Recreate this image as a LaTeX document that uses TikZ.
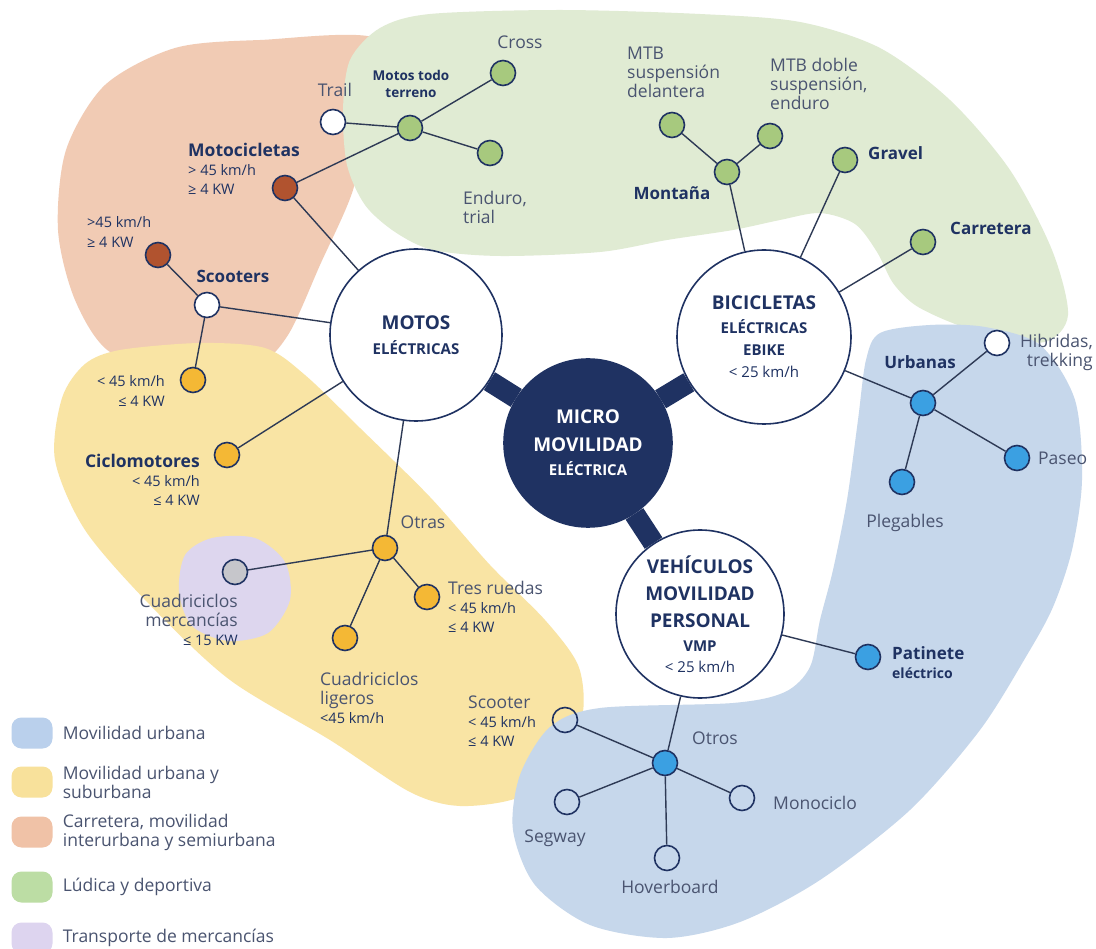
\documentclass[tikz,border=0pt]{standalone}
\usepackage{fontspec}
\setmainfont{Open Sans}
\usetikzlibrary{positioning}

\definecolor{navy}{HTML}{1F3262}
\definecolor{edge}{HTML}{2E3A55}
\definecolor{txt}{HTML}{4A5470}
\definecolor{zblue}{HTML}{C6D7EB}
\definecolor{zyellow}{HTML}{F9E4A4}
\definecolor{zpeach}{HTML}{F1CBB4}
\definecolor{zgreen}{HTML}{E0EBD3}
\definecolor{zpurple}{HTML}{DDD6EE}
\definecolor{dblue}{HTML}{3BA0E2}
\definecolor{dyellow}{HTML}{F4B835}
\definecolor{dbrown}{HTML}{B1532F}
\definecolor{dgreen}{HTML}{A7C97E}
\definecolor{dgray}{HTML}{C6C6CB}

\begin{document}
\begin{tikzpicture}[
    x=1pt, y=-1pt,
    big/.style={circle, draw=navy, line width=1.6pt, fill=white, inner sep=0pt, align=center, text=navy, minimum size=#1},
    dot/.style={circle, draw=navy, line width=1.6pt, inner sep=0pt, minimum size=25pt},
    link/.style={draw=edge, line width=1.4pt},
    bar/.style={draw=navy, line width=21pt},
    lbl/.style={text=txt, inner sep=0pt, font=\fontsize{17.5}{19}\selectfont},
    lblb/.style={text=navy, inner sep=0pt, font=\fontsize{17}{19}\selectfont\bfseries},
    sml/.style={text=navy, inner sep=0pt, font=\fontsize{14.5}{19.5}\selectfont},
    swatch/.style={rounded corners=10pt, minimum width=41pt, minimum height=31pt, inner sep=0pt},
    lgtxt/.style={lbl, anchor=west, align=left}
    ]
    \fill[white] (0,0) rectangle (1096,949);
    \useasboundingbox (0,0) rectangle (1096,949);

    \fill[zpeach] plot[smooth cycle] coordinates {(380,40) (365,120) (353,190) (320,265) (288,335) (255,365) (180,368) (110,352) (75,300) (58,230) (66,150) (105,85) (175,48) (260,40)};
    \fill[zgreen] plot[smooth cycle] coordinates {(430,14) (560,10) (700,14) (800,22) (880,48) (950,100) (1010,170) (1052,250) (1068,315) (1045,342) (990,335) (950,322) (915,305) (893,283) (877,252) (855,224) (820,213) (780,220) (733,230) (667,240) (600,252) (500,256) (433,250) (395,232) (365,205) (347,165) (343,110) (350,60) (380,28)};
    \fill[zyellow] plot[smooth cycle] coordinates {(120,350) (200,343) (265,348) (305,375) (360,428) (430,497) (490,565) (545,620) (578,665) (583,712) (565,762) (520,797) (460,806) (410,792) (330,740) (230,680) (150,605) (85,530) (55,460) (62,398) (85,364)};
    \fill[zpurple] plot[smooth cycle] coordinates {(185,555) (212,538) (255,538) (285,562) (290,600) (268,633) (228,641) (192,626) (179,592)};
    \fill[zblue] plot[smooth cycle] coordinates {(880,333) (930,325) (985,327) (1040,345) (1075,400) (1082,480) (1072,550) (1053,607) (1027,655) (980,730) (910,810) (820,880) (740,922) (667,938) (590,925) (535,885) (513,830) (520,775) (550,727) (600,708) (733,703) (785,692) (810,667) (820,620) (833,570) (847,500) (858,420) (866,360)};

    \node[big=172pt, font=\fontsize{19}{25}\selectfont\bfseries] (motos) at (416,335) {MOTOS\\{\fontsize{15}{25}\selectfont ELÉCTRICAS}};
    \node[big=174pt, font=\fontsize{19}{24}\selectfont\bfseries] (bici) at (764,337) {BICICLETAS\\{\fontsize{15}{24}\selectfont ELÉCTRICAS}\\[-2pt]{\fontsize{15}{24}\selectfont EBIKE}\\[-2pt]{\fontsize{15}{24}\selectfont\mdseries < 25 km/h}};
    \node[big=168pt, fill=navy, text=white, font=\fontsize{19}{28}\selectfont\bfseries] (micro) at (588,443) {MICRO\\MOVILIDAD\\[-4pt]{\fontsize{15}{28}\selectfont ELÉCTRICA}};
    \node[big=168pt, font=\fontsize{19}{27}\selectfont\bfseries] (vmp) at (700,614) {VEHÍCULOS\\MOVILIDAD\\PERSONAL\\[-3pt]{\fontsize{15}{27}\selectfont VMP}\\[-6pt]{\fontsize{15}{27}\selectfont\mdseries < 25 km/h}};

    \node[dot, fill=white] (trail) at (333,122) {};
    \node[dot, fill=dgreen] (mtt) at (410,128) {};
    \node[dot, fill=dgreen] (cross) at (503,73) {};
    \node[dot, fill=dgreen] (enduro) at (490,153) {};
    \node[dot, fill=dbrown] (motoc) at (285,188) {};
    \node[dot, fill=dbrown] (scmas) at (158,255) {};
    \node[dot, fill=white] (scooters) at (207,305) {};
    \node[dot, fill=dyellow] (scmenos) at (193,380) {};
    \node[dot, fill=dyellow] (ciclo) at (227,455) {};
    \node[dot, fill=dyellow] (otras) at (385,548) {};
    \node[dot, fill=dgray] (cmerc) at (235,572) {};
    \node[dot, fill=dyellow] (cligeros) at (345,638) {};
    \node[dot, fill=dyellow] (tres) at (427,597) {};
    \node[dot, fill=dgreen] (mtbdel) at (672,125) {};
    \node[dot, fill=dgreen] (montana) at (727,172) {};
    \node[dot, fill=dgreen] (mtbdob) at (770,136) {};
    \node[dot, fill=dgreen] (gravel) at (845,160) {};
    \node[dot, fill=dgreen] (carretera) at (923,242) {};
    \node[dot, fill=white] (hibridas) at (997,343) {};
    \node[dot, fill=dblue] (urbanas) at (923,403) {};
    \node[dot, fill=dblue] (paseo) at (1017,458) {};
    \node[dot, fill=dblue] (plegables) at (902,482) {};
    \node[dot, fill=dblue] (patinete) at (868,657) {};
    \node[dot, fill=dblue] (otros) at (665,763) {};
    \node[dot] (scooter) at (565,720) {};
    \node[dot] (segway) at (567,802) {};
    \node[dot] (hoverboard) at (667,858) {};
    \node[dot] (monociclo) at (742,798) {};

    \draw[bar] (micro) -- (motos);
    \draw[bar] (micro) -- (bici);
    \draw[bar] (micro) -- (vmp);

    \foreach \a/\b in {motoc/motos, motoc/mtt, mtt/trail, mtt/cross, mtt/enduro,
        scooters/motos, scooters/scmas, scooters/scmenos, ciclo/motos, otras/motos,
        otras/cmerc, otras/cligeros, otras/tres, montana/bici, montana/mtbdel,
        montana/mtbdob, gravel/bici, carretera/bici, urbanas/bici, urbanas/hibridas,
        urbanas/paseo, urbanas/plegables, patinete/vmp, otros/vmp, otros/scooter,
        otros/segway, otros/hoverboard, otros/monociclo}
        \draw[link] (\a) -- (\b);

    \node[lbl] (lTrail) at (335,90) {Trail};
    \node[lblb, align=center, font=\fontsize{13.5}{17}\selectfont\bfseries] (lMtt) at (411,84) {Motos todo\\terreno};
    \node[lbl] (lCross) at (520,42) {Cross};
    \node[lbl, anchor=west, align=left] (lEnduro) at (463,207) {Enduro,\\trial};
    \node[lbl, anchor=west, align=left] (lMotoc) at (188,169) {\textbf{\textcolor{navy}{Motocicletas}}\\{\fontsize{14.5}{19}\selectfont\textcolor{navy}{> 45 km/h}}\\{\fontsize{14.5}{19}\selectfont\textcolor{navy}{≥ 4 KW}}};
    \node[sml, anchor=west, align=left] (lScmas) at (87,232) {>45 km/h\\≥ 4 KW};
    \node[lblb] (lScooters) at (233,276) {Scooters};
    \node[sml, anchor=east, align=right] (lScmenos) at (165,391) {< 45 km/h\\≤ 4 KW};
    \node[lbl, anchor=east, align=right] (lCiclo) at (200,480) {\textbf{\textcolor{navy}{Ciclomotores}}\\{\fontsize{14.5}{19}\selectfont\textcolor{navy}{< 45 km/h}}\\{\fontsize{14.5}{19}\selectfont\textcolor{navy}{≤ 4 KW}}};
    \node[lbl] (lOtras) at (423,522) {Otras};
    \node[lbl, anchor=east, align=right] (lCmerc) at (238,620) {Cuadriciclos\\mercancías\\{\fontsize{14.5}{19}\selectfont\textcolor{navy}{≤ 15 KW}}};
    \node[lbl, anchor=west, align=left] (lCligeros) at (320,698) {Cuadriciclos\\ligeros\\{\fontsize{14.5}{19}\selectfont\textcolor{navy}{<45 km/h}}};
    \node[lbl, anchor=west, align=left] (lTres) at (448,607) {Tres ruedas\\{\fontsize{14.5}{19}\selectfont\textcolor{navy}{< 45 km/h}}\\{\fontsize{14.5}{19}\selectfont\textcolor{navy}{≤ 4 KW}}};
    \node[lbl, anchor=west, align=left] (lMtbdel) at (627,72) {MTB\\suspensión\\delantera};
    \node[lblb] (lMontana) at (672,193) {Montaña};
    \node[lbl, anchor=west, align=left] (lMtbdob) at (770,84) {MTB doble\\suspensión,\\enduro};
    \node[lblb, anchor=west] (lGravel) at (868,153) {Gravel};
    \node[lblb, anchor=west] (lCarretera) at (950,228) {Carretera};
    \node[lbl, anchor=east, align=right] (lHibridas) at (1093,352) {Hibridas,\\trekking};
    \node[lblb] (lUrbanas) at (920,362) {Urbanas};
    \node[lbl, anchor=west] (lPaseo) at (1038,458) {Paseo};
    \node[lbl] (lPlegables) at (905,523) {Plegables};
    \node[lblb, anchor=west, align=left] (lPatinete) at (892,663) {Patinete\\{\fontsize{14}{18}\selectfont eléctrico}};
    \node[lbl] (lOtros) at (715,738) {Otros};
    \node[lbl, anchor=west, align=left] (lScooter) at (468,721) {Scooter\\{\fontsize{14.5}{19}\selectfont\textcolor{navy}{< 45 km/h}}\\{\fontsize{14.5}{19}\selectfont\textcolor{navy}{≤ 4 KW}}};
    \node[lbl] (lSegway) at (555,838) {Segway};
    \node[lbl] (lHoverboard) at (670,887) {Hoverboard};
    \node[lbl, anchor=west] (lMonociclo) at (773,803) {Monociclo};

    \node[swatch, fill={rgb,255:red,186;green,208;blue,236}] (sw1) at (32,733) {};
    \node[swatch, fill={rgb,255:red,248;green,225;blue,155}] (sw2) at (32,782) {};
    \node[swatch, fill={rgb,255:red,240;green,194;blue,167}] (sw3) at (32,832) {};
    \node[swatch, fill={rgb,255:red,188;green,221;blue,164}] (sw4) at (32,887) {};
    \node[swatch, fill={rgb,255:red,221;green,212;blue,239}] (sw5) at (32,938) {};
    \node[lgtxt, right=10pt of sw1] (lg1) {Movilidad urbana};
    \node[lgtxt, right=10pt of sw2] (lg2) {Movilidad urbana y\\suburbana};
    \node[lgtxt, right=10pt of sw3] (lg3) {Carretera, movilidad\\interurbana y semiurbana};
    \node[lgtxt, right=10pt of sw4] (lg4) {Lúdica y deportiva};
    \node[lgtxt, right=10pt of sw5] (lg5) {Transporte de mercancías};
  \end{tikzpicture}
\end{document}
